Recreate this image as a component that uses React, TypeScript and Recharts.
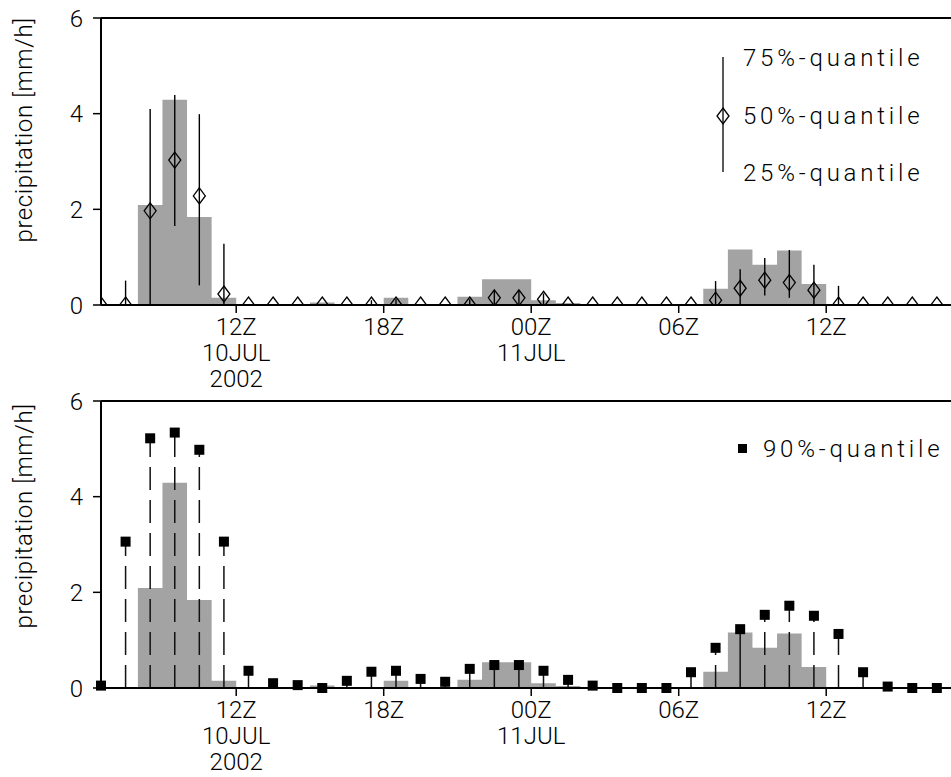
import React from "react";
import {
  ComposedChart,
  Area,
  Scatter,
  ErrorBar,
  XAxis,
  YAxis,
  ReferenceLine,
} from "recharts";

// hours since 00Z 10JUL2002, start of each hourly bin
const binStart = [
  6, 7, 8, 9, 10, 11, 12, 13, 14, 15, 16, 17, 18, 19, 20, 21, 22, 23, 24, 25,
  26, 27, 28, 29, 30, 31, 32, 33, 34, 35, 36, 37, 38, 39, 40,
];
// observed precipitation [mm/h]
const observed = [
  0, 0, 2.09, 4.29, 1.84, 0.15, 0, 0, 0, 0.05, 0.02, 0.02, 0.15, 0, 0, 0.17,
  0.54, 0.54, 0.1, 0.04, 0.02, 0, 0, 0, 0, 0.34, 1.16, 0.84, 1.14, 0.44, 0.02,
  0, 0, 0, 0,
];
const q25 = [
  0, 0, 0, 1.65, 0.41, 0, 0, 0, 0, 0, 0, 0, 0, 0, 0, 0, 0, 0, 0, 0, 0, 0, 0,
  0, 0, 0, 0, 0.2, 0.15, 0, 0, 0, 0, 0, 0,
];
const q50 = [
  0, 0, 1.97, 3.03, 2.28, 0.23, 0, 0, 0, 0, 0, 0, 0, 0, 0, 0, 0.15, 0.15, 0.12,
  0, 0, 0, 0, 0, 0, 0.1, 0.35, 0.52, 0.47, 0.31, 0, 0, 0, 0, 0,
];
const q75 = [
  0, 0.51, 4.1, 4.39, 3.99, 1.28, 0, 0, 0, 0, 0, 0.1, 0.12, 0, 0, 0.12, 0.31,
  0.31, 0.24, 0, 0, 0, 0, 0, 0, 0.5, 0.75, 0.98, 1.15, 0.84, 0.4, 0, 0, 0, 0,
];
const q90 = [
  0.05, 3.06, 5.22, 5.34, 4.98, 3.06, 0.36, 0.1, 0.06, 0, 0.15, 0.34, 0.36,
  0.19, 0.13, 0.4, 0.48, 0.48, 0.36, 0.17, 0.05, 0, 0, 0, 0.33, 0.84, 1.23,
  1.53, 1.72, 1.51, 1.13, 0.33, 0.03, 0, 0,
];
// 1 = stem drawn dashed
const dashed90 = [
  0, 1, 1, 1, 1, 1, 0, 0, 0, 0, 0, 0, 0, 0, 0, 0, 0, 0, 0, 0, 0, 0, 0, 0, 0,
  1, 0, 1, 1, 1, 1, 0, 0, 0, 0,
];
const yTicks = [0, 2, 4, 6];
const tickHours = [12, 18, 24, 30, 36];
const tickLabels = [["12Z", "10JUL", "2002"], ["18Z"], ["00Z", "11JUL"], ["06Z"], ["12Z"]];

const X0 = 6.5; // plot starts at 06:30Z
const FONT = "Roboto, 'DejaVu Sans', sans-serif";
const GRAY = "#a3a3a3";

const barData = [
  ...binStart.map((h, i) => ({ x: Math.max(h, X0), y: observed[i] })),
  { x: binStart[binStart.length - 1] + 1, y: observed[observed.length - 1] },
];
const quantData = binStart.map((h, i) => ({
  x: h + 0.5,
  y: q50[i],
  err: [q50[i] - q25[i], q75[i] - q50[i]],
}));
const q90Data = binStart.map((h, i) => ({ x: h + 0.5, y: q90[i], err: [q90[i], 0], dash: dashed90[i] }));
const q90Dashed = q90Data.filter((d) => d.dash === 1);
const q90Solid = q90Data.filter((d) => d.dash === 0);

const XTick = (props: any) => {
  const { x, y, payload } = props;
  const lines = tickLabels[tickHours.indexOf(payload.value)] || [];
  return (
    <text x={x} y={y} textAnchor="middle" fontFamily={FONT} fontWeight={300} fontSize={24} fill="#000">
      {lines.map((t, i) => (
        <tspan key={i} x={x} dy={i === 0 ? 22 : 26}>
          {t}
        </tspan>
      ))}
    </text>
  );
};

const Diamond = (props: any) => {
  const { cx, cy } = props;
  return (
    <path
      d={`M${cx},${cy - 8}L${cx + 6},${cy}L${cx},${cy + 8}L${cx - 6},${cy}Z`}
      fill="none"
      stroke="#000"
      strokeWidth={1.3}
    />
  );
};

const Square = (props: any) => {
  const { cx, cy } = props;
  return <rect x={cx - 5} y={cy - 5} width={10} height={10} fill="#000" />;
};

const Panel: React.FC<{ clip: boolean; children: React.ReactNode }> = ({ clip, children }) => (
  <ComposedChart width={986} height={394} margin={{ top: 18, right: 0, bottom: 0, left: 41 }}>
    <XAxis
      type="number"
      dataKey="x"
      domain={[X0, 42.5]}
      ticks={tickHours}
      interval={0}
      allowDataOverflow={clip}
      height={89}
      tickSize={8}
      tickMargin={0}
      axisLine={{ stroke: "#000", strokeWidth: 2 }}
      tickLine={{ stroke: "#000", strokeWidth: 1.5 }}
      tick={<XTick />}
    />
    <YAxis
      type="number"
      dataKey="y"
      domain={[0, 6]}
      ticks={yTicks}
      allowDataOverflow={clip}
      width={60}
      tickSize={8}
      tickMargin={10}
      axisLine={{ stroke: "#000", strokeWidth: 2 }}
      tickLine={{ stroke: "#000", strokeWidth: 1.5 }}
      tick={{ fill: "#000", fontSize: 24, fontFamily: FONT, fontWeight: 300 }}
    />
    <Area
      type="stepAfter"
      data={barData}
      dataKey="y"
      fill={GRAY}
      fillOpacity={1}
      stroke="none"
      isAnimationActive={false}
    />
    <ReferenceLine y={6} stroke="#000" strokeWidth={2} />
    {children}
  </ComposedChart>
);

const textStyle = { fontFamily: FONT, fontWeight: 300, fontSize: 24, fill: "#000" } as const;

export default function App() {
  return (
    <div style={{ position: "absolute", left: 0, top: 0, width: 951, height: 777, overflow: "hidden", background: "#fff" }}>
      <div style={{ position: "absolute", left: 0, top: 0 }}>
        <Panel clip={true}>
          <Scatter data={quantData} dataKey="y" shape={<Diamond />} isAnimationActive={false}>
            <ErrorBar dataKey="err" direction="y" width={0} stroke="#000" strokeWidth={1.4} isAnimationActive={false} />
          </Scatter>
        </Panel>
      </div>
      <div style={{ position: "absolute", left: 0, top: 383 }}>
        <Panel clip={false}>
          <Scatter data={q90Dashed} dataKey="y" shape={<Square />} isAnimationActive={false}>
            <ErrorBar
              dataKey="err"
              direction="y"
              width={0}
              stroke="#111"
              strokeWidth={1.5}
              strokeDasharray="23 10"
              isAnimationActive={false}
            />
          </Scatter>
          <Scatter data={q90Solid} dataKey="y" shape={<Square />} isAnimationActive={false}>
            <ErrorBar dataKey="err" direction="y" width={0} stroke="#111" strokeWidth={1.5} isAnimationActive={false} />
          </Scatter>
        </Panel>
      </div>
      <svg width={951} height={777} style={{ position: "absolute", left: 0, top: 0, pointerEvents: "none" }}>
        <text {...textStyle} x={24} y={130} transform="rotate(-90 24 130)" textAnchor="middle" dominantBaseline="central" letterSpacing={0.6}>
          precipitation [mm/h]
        </text>
        <text {...textStyle} x={24} y={516} transform="rotate(-90 24 516)" textAnchor="middle" dominantBaseline="central" letterSpacing={0.6}>
          precipitation [mm/h]
        </text>
        <line x1={723} y1={57} x2={723} y2={172} stroke="#000" strokeWidth={1.3} />
        <path d="M723,108L729,116L723,124L717,116Z" fill="none" stroke="#000" strokeWidth={1.3} />
        <text {...textStyle} x={743} y={66} letterSpacing={3.8}>75%-quantile</text>
        <text {...textStyle} x={743} y={124} letterSpacing={3.8}>50%-quantile</text>
        <text {...textStyle} x={743} y={181} letterSpacing={3.8}>25%-quantile</text>
        <rect x={738} y={444} width={9} height={9} fill="#000" />
        <text {...textStyle} x={763} y={457} letterSpacing={3.8}>90%-quantile</text>
      </svg>
    </div>
  );
}
